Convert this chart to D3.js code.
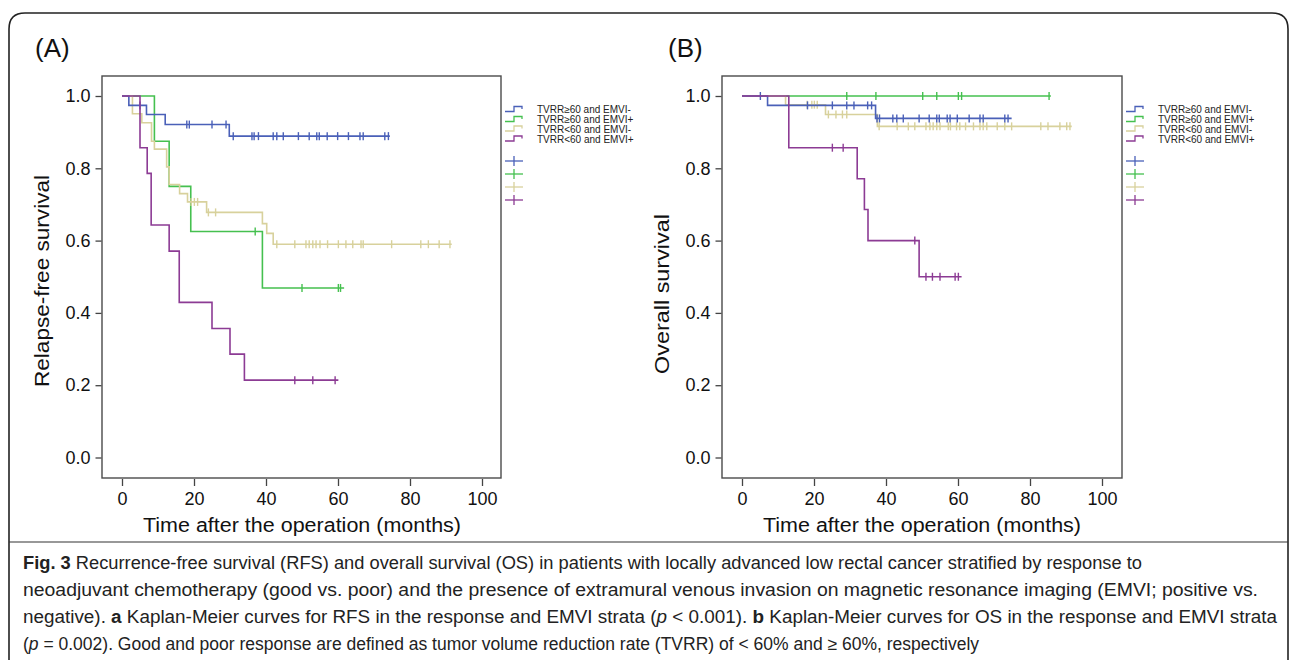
<!DOCTYPE html>
<html><head><meta charset="utf-8">
<script src="https://cdn.jsdelivr.net/npm/d3@7"></script>
<style>body{margin:0;background:#fff;} svg{display:block}</style>
</head><body><svg id="c" width="1290" height="660"></svg>
<script>
// ---- data ----
const groups = ["TVRR\u226560 and EMVI-", "TVRR\u226560 and EMVI+", "TVRR<60 and EMVI-", "TVRR<60 and EMVI+"];
const xTicks = [0, 20, 40, 60, 80, 100];
const yTicks = [0, 0.2, 0.4, 0.6, 0.8, 1.0];

// (A) Relapse-free survival
const rfsBlueTimes = [0, 1.9, 6.8, 12, 29.8];
const rfsBlueSurv = [1, 0.974, 0.949, 0.921, 0.889];
const rfsBlueCensor = [5, 18, 18.7, 25, 28.9, 30.9, 36.1, 36.7, 37.9, 42, 43, 44.8, 49, 52, 54.1, 54.8, 57, 59.9, 62.9, 66.1, 67, 73, 74];
const rfsBlueEnd = 74.4;

const rfsGreenTimes = [0, 9, 13.1, 19.1, 39];
const rfsGreenSurv = [1, 0.875, 0.75, 0.625, 0.469];
const rfsGreenCensor = [37, 50, 60.1, 60.7];
const rfsGreenEnd = 61.7;

const rfsTanTimes = [0, 2.9, 5.5, 8.2, 9.0, 12.4, 13.1, 16, 18.2, 23.5, 39, 40.2, 42];
const rfsTanSurv = [1, 0.951, 0.926, 0.875, 0.853, 0.804, 0.755, 0.730, 0.707, 0.678, 0.647, 0.620, 0.590];
const rfsTanCensor = [19.2, 20.1, 21, 24, 26, 43, 48, 51.1, 52, 53, 53.9, 55, 57.1, 60.1, 62.2, 64.1, 66.4, 67, 74.9, 83, 85.1, 88.1, 91.1];
const rfsTanEnd = 91.6;

const rfsPurpleTimes = [0, 5, 7, 8.1, 13.1, 15.9, 25, 30, 34];
const rfsPurpleSurv = [1, 0.857, 0.786, 0.643, 0.571, 0.429, 0.357, 0.286, 0.214];
const rfsPurpleCensor = [48, 53, 59.2];
const rfsPurpleEnd = 60.1;

// (B) Overall survival
const osBlueTimes = [0, 7.1, 37.1];
const osBlueSurv = [1, 0.974, 0.938];
const osBlueCensor = [5.1, 18.2, 25.1, 29.1, 31.1, 34.9, 36, 37.5, 38.2, 41.9, 43, 44.8, 49.2, 52, 54.1, 54.8, 57, 57.8, 59.8, 63.1, 66.1, 67, 73, 73.9];
const osBlueEnd = 74.9;

const osGreenTimes = [0];
const osGreenSurv = [1];
const osGreenCensor = [29.1, 37.2, 50.2, 54.1, 60.1, 61, 85.3];
const osGreenEnd = 85.8;

const osTanTimes = [0, 12.1, 23.2, 37.6];
const osTanSurv = [1, 0.976, 0.949, 0.916];
const osTanCensor = [18.1, 19.4, 20.1, 20.9, 24, 26.1, 27.9, 29.1, 38.1, 43.1, 46.2, 48, 51.1, 52.2, 53.1, 54.1, 55, 57.3, 57.9, 59.6, 60.5, 62.1, 64.3, 66.1, 67, 68, 70.9, 73, 74.9, 83, 85, 88.3, 90.2, 91.1];
const osTanEnd = 91.6;

const osPurpleTimes = [0, 13, 32, 34, 35, 49.2];
const osPurpleSurv = [1, 0.857, 0.771, 0.686, 0.6, 0.5];
const osPurpleCensor = [25.1, 28.1, 48, 51.1, 52.9, 55, 59.2, 60.1];
const osPurpleEnd = 61;

const colors = ["#4a60b8", "#45c04f", "#d8d19c", "#8c3b94"];

// ---- drawing ----
const svg = d3.select("#c");
const FONT = "Liberation Sans, Arial, sans-serif";

// outer frame
svg.append("path")
  .attr("d", "M9,700 V29 Q9,13 25,13 H1272 Q1288,13 1288,29 V700")
  .attr("fill", "none").attr("stroke", "#222").attr("stroke-width", 1.6);
svg.append("line").attr("x1", 9).attr("x2", 1288).attr("y1", 542).attr("y2", 542)
  .attr("stroke", "#333").attr("stroke-width", 1.2);

function mk(times, surv, censor, end) { return {times, surv, censor, end}; }

const panels = [
  { label: "(A)", labelX: 35, fx0: 102, fx1: 501, xr: [122, 482], ytitle: "Relapse-free survival", ytX: 49, ytY: 281, ytLen: 212,
    series: [mk(rfsBlueTimes, rfsBlueSurv, rfsBlueCensor, rfsBlueEnd), mk(rfsGreenTimes, rfsGreenSurv, rfsGreenCensor, rfsGreenEnd),
             mk(rfsTanTimes, rfsTanSurv, rfsTanCensor, rfsTanEnd), mk(rfsPurpleTimes, rfsPurpleSurv, rfsPurpleCensor, rfsPurpleEnd)] },
  { label: "(B)", labelX: 668, fx0: 722, fx1: 1122, xr: [742, 1102], ytitle: "Overall survival", ytX: 669, ytY: 294, ytLen: 160,
    series: [mk(osBlueTimes, osBlueSurv, osBlueCensor, osBlueEnd), mk(osGreenTimes, osGreenSurv, osGreenCensor, osGreenEnd),
             mk(osTanTimes, osTanSurv, osTanCensor, osTanEnd), mk(osPurpleTimes, osPurpleSurv, osPurpleCensor, osPurpleEnd)] }
];

const fy0 = 76, fy1 = 478;
const drawOrder = [1, 2, 0, 3];

panels.forEach(p => {
  const x = d3.scaleLinear().domain([0, 100]).range(p.xr);
  const y = d3.scaleLinear().domain([0, 1]).range([457.5, 96]);
  const g = svg.append("g");

  g.append("text").attr("x", p.labelX).attr("y", 57).attr("font-family", FONT)
    .attr("font-size", 26).attr("fill", "#111").text(p.label);

  g.append("rect").attr("x", p.fx0).attr("y", fy0).attr("width", p.fx1 - p.fx0).attr("height", fy1 - fy0)
    .attr("fill", "none").attr("stroke", "#4a4a4a").attr("stroke-width", 1.4);

  const ya = g.append("g").attr("transform", `translate(${p.fx0 - 0.5},0)`)
    .call(d3.axisLeft(y).tickValues(yTicks).tickFormat(d3.format(".1f")).tickSize(6).tickPadding(5));
  const xa = g.append("g").attr("transform", `translate(0,${fy1 + 1})`)
    .call(d3.axisBottom(x).tickValues(xTicks).tickSize(7).tickPadding(6));
  [ya, xa].forEach(a => {
    a.select(".domain").remove();
    a.selectAll("line").attr("stroke", "#444").attr("stroke-width", 1.3);
    a.selectAll("text").attr("font-family", FONT).attr("font-size", 18).attr("fill", "#111");
  });

  g.append("text").attr("x", (p.xr[0] + p.xr[1]) / 2).attr("y", 532).attr("text-anchor", "middle")
    .attr("font-family", FONT).attr("font-size", 20).attr("fill", "#111")
    .attr("textLength", 318).attr("lengthAdjust", "spacingAndGlyphs")
    .text("Time after the operation (months)");
  g.append("text").attr("transform", `translate(${p.ytX},${p.ytY}) rotate(-90)`).attr("text-anchor", "middle")
    .attr("font-family", FONT).attr("font-size", 20).attr("fill", "#111")
    .attr("textLength", p.ytLen).attr("lengthAdjust", "spacingAndGlyphs")
    .text(p.ytitle);

  const line = d3.line().x(d => x(d[0])).y(d => y(d[1])).curve(d3.curveStepAfter);
  drawOrder.forEach(i => {
    const s = p.series[i];
    const pts = s.times.map((t, k) => [t, s.surv[k]]);
    pts.push([s.end, s.surv[s.surv.length - 1]]);
    g.append("path").attr("d", line(pts)).attr("fill", "none")
      .attr("stroke", colors[i]).attr("stroke-width", 1.6);
    const survAt = t => { let v = s.surv[0]; s.times.forEach((tt, k) => { if (tt <= t) v = s.surv[k]; }); return v; };
    g.selectAll(null).data(s.censor).enter().append("line")
      .attr("x1", d => x(d)).attr("x2", d => x(d))
      .attr("y1", d => y(survAt(d)) - 4).attr("y2", d => y(survAt(d)) + 4)
      .attr("stroke", colors[i]).attr("stroke-width", 1.4);
  });

  // legend
  const lx = p.fx1 + 4;
  const rowY = [109, 119, 128.5, 138.5];
  const crossY = [161, 174, 187, 200];
  groups.forEach((name, i) => {
    const yy = rowY[i];
    g.append("path").attr("d", `M${lx},${yy + 2.5} H${lx + 9} V${yy - 2.5} H${lx + 17} V${yy}`)
      .attr("fill", "none").attr("stroke", colors[i]).attr("stroke-width", 1.3);
    g.append("text").attr("x", lx + 32).attr("y", yy + 4).attr("font-family", FONT)
      .attr("font-size", 10).attr("fill", "#222").text(name);
    const cy = crossY[i];
    g.append("line").attr("x1", lx).attr("x2", lx + 18).attr("y1", cy).attr("y2", cy)
      .attr("stroke", colors[i]).attr("stroke-width", 1.3);
    g.append("line").attr("x1", lx + 9).attr("x2", lx + 9).attr("y1", cy - 5).attr("y2", cy + 5)
      .attr("stroke", colors[i]).attr("stroke-width", 1.3);
  });
});

// caption
const CAP = "Liberation Sans, Arial, sans-serif";
const capLines = [
  { len: 1119, parts: [["Fig. 3", "b"], [" Recurrence-free survival (RFS) and overall survival (OS) in patients with locally advanced low rectal cancer stratified by response to", ""]] },
  { len: 1235, parts: [["neoadjuvant chemotherapy (good vs. poor) and the presence of extramural venous invasion on magnetic resonance imaging (EMVI; positive vs.", ""]] },
  { len: 1254, parts: [["negative). ", ""], ["a", "b"], [" Kaplan-Meier curves for RFS in the response and EMVI strata (", ""], ["p", "i"], [" < 0.001). ", ""], ["b", "b"], [" Kaplan-Meier curves for OS in the response and EMVI strata", ""]] },
  { len: null, parts: [["(", ""], ["p", "i"], [" = 0.002). Good and poor response are defined as tumor volume reduction rate (TVRR) of < 60% and \u2265 60%, respectively", ""]] }
];
capLines.forEach((l, i) => {
  const t = svg.append("text").attr("x", 23).attr("y", 569 + i * 27)
    .attr("font-family", CAP).attr("font-size", 17.5).attr("fill", "#222");
  l.parts.forEach(([s, st]) => {
    const ts = t.append("tspan").text(s);
    if (st === "b") ts.attr("font-weight", "bold");
    if (st === "i") ts.attr("font-style", "italic");
  });
  if (l.len) t.attr("textLength", l.len).attr("lengthAdjust", "spacingAndGlyphs");
});
</script></body></html>
